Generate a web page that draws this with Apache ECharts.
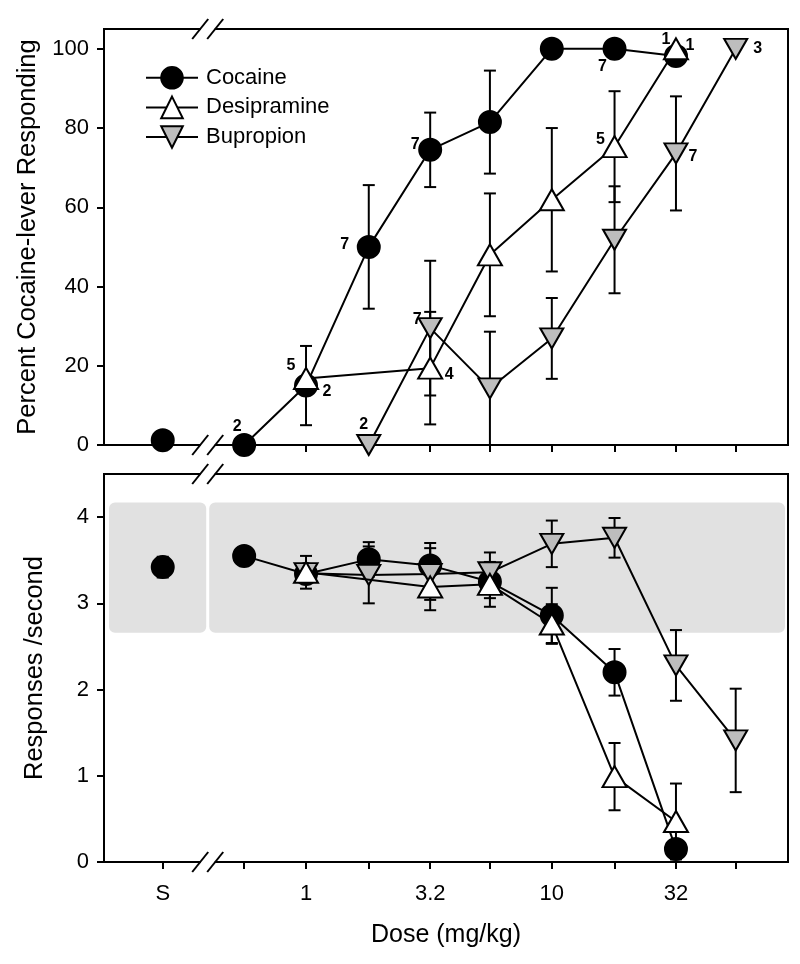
<!DOCTYPE html>
<html>
<head>
<meta charset="utf-8">
<script src="https://cdn.jsdelivr.net/npm/echarts@6/dist/echarts.min.js"></script>
<style>
  html, body { margin: 0; padding: 0; background: #fff; }
  #chart { width: 800px; height: 964px; }
</style>
</head>
<body>
<div id="chart"></div>
<script>
// ---------------- DATA ----------------
const allDoses = [0.56, 1, 1.8, 3.2, 5.6, 10, 18, 32, 56];
const labelDoses = [1, 3.2, 10, 32];
const xTickLabels = ['S', '1', '3.2', '10', '32'];
const yTicksPct = [0, 20, 40, 60, 80, 100];
const yTicksRate = [0, 1, 2, 3, 4];

// Top panel: percent cocaine-lever responding
const cocDoses = [0.56, 1, 1.8, 3.2, 5.6, 10, 18, 32];
const cocPct = [0, 15, 50, 74.5, 81.5, 100, 100, 98.2];
const cocPctSem = [0, 10, 15.6, 9.4, 13, 0, 0, 0];
const cocPctN = ['2', '2', '7', '7', '', '', '7', '1'];
const cocSalinePct = 1.2;

const desiDoses = [1, 3.2, 5.6, 10, 18, 32];
const desiPct = [16.8, 19.4, 48, 61.9, 75.3, 100];
const desiPctSem = [0, 14.2, 15.5, 18.1, 14, 0];
const desiPctN = ['5', '4', '', '', '5', '1'];

const bupDosesPct = [1.8, 3.2, 5.6, 10, 18, 32, 56];
const bupPct = [0, 29.5, 14.3, 26.9, 51.8, 73.6, 100];
const bupPctSem = [0, 17, 14.3, 10.2, 13.5, 14.4, 0];
const bupPctN = ['2', '7', '', '', '', '7', '3'];

// Bottom panel: responses / second
const cocRate = [3.55, 3.34, 3.51, 3.44, 3.25, 2.86, 2.20, 0.15];
const cocRateSem = [0, 0, 0.2, 0.26, 0.19, 0.32, 0.27, 0.1];
const cocSalineRate = 3.42;
const cocSalineRateSem = 0.12;

const desiRate = [3.36, 3.19, 3.22, 2.76, 0.99, 0.47];
const desiRateSem = [0.19, 0.27, 0.26, 0.23, 0.39, 0.44];

const bupDosesRate = [1, 1.8, 3.2, 5.6, 10, 18, 32, 56];
const bupRate = [3.35, 3.33, 3.34, 3.36, 3.69, 3.76, 2.28, 1.41];
const bupRateSem = [0, 0.33, 0.3, 0.23, 0.27, 0.23, 0.41, 0.6];

// control range band (responses/second)
const controlBand = [2.66, 4.17];

// ---------------- LAYOUT ----------------
const FONT = 'Liberation Sans, Arial, sans-serif';
const X_MIN = -0.822, X_MAX = 1.961;
const S_POS = -0.583;      // position of the saline point on the axis
const BREAK_POS = -0.40;   // axis break position
const lg = Math.log10;

const tickPos = [S_POS].concat(allDoses.map(lg));
const labelPos = [S_POS].concat(labelDoses.map(lg));

// number-label offsets (px) keyed by series + index
const nOffsets = {
  coc: { 0: [-7, -18], 1: [21, 6], 2: [-24, -2], 3: [-15, -5], 6: [-12, 18], 7: [-10, -16] },
  desi: { 0: [-15, -13], 1: [19, 6], 4: [-14, -7], 5: [14, -3] },
  bup: { 0: [-5, -20], 1: [-13, -9], 5: [17, 3], 6: [22, 0] }
};

// ---------------- BUILD ----------------
function pts(doses, vals) { return doses.map((d, i) => [lg(d), vals[i]]); }
function errs(doses, vals, sem) {
  const out = [];
  doses.forEach((d, i) => { if (sem[i] > 0) out.push([lg(d), Math.max(0, vals[i] - sem[i]), vals[i] + sem[i]]); });
  return out;
}
function errRender(params, api) {
  const x = api.value(0), lo = api.value(1), hi = api.value(2);
  const p1 = api.coord([x, hi]), p2 = api.coord([x, lo]);
  const cw = 6, st = { stroke: '#000', lineWidth: 2 };
  return { type: 'group', children: [
    { type: 'line', shape: { x1: p1[0], y1: p1[1], x2: p2[0], y2: p2[1] }, style: st },
    { type: 'line', shape: { x1: p1[0] - cw, y1: p1[1], x2: p1[0] + cw, y2: p1[1] }, style: st },
    { type: 'line', shape: { x1: p2[0] - cw, y1: p2[1], x2: p2[0] + cw, y2: p2[1] }, style: st }
  ]};
}
function errSeries(data, gi) {
  return { type: 'custom', xAxisIndex: gi, yAxisIndex: gi, data: data, renderItem: errRender,
    encode: { x: 0, y: [1, 2] }, clip: false, z: 2, silent: true };
}

const styles = {
  Cocaine: { symbol: 'circle', symbolSize: 22, symbolRotate: 0, fill: '#000' },
  Desipramine: { symbol: 'triangle', symbolSize: [24, 21], symbolRotate: 0, fill: '#fff' },
  Bupropion: { symbol: 'triangle', symbolSize: [23, 20], symbolRotate: 180, fill: '#bdbdbd' }
};
function lineSeries(name, data, gi, z) {
  const s = styles[name];
  return { type: 'line', name: name, xAxisIndex: gi, yAxisIndex: gi, data: data,
    symbol: s.symbol, symbolSize: s.symbolSize, symbolRotate: s.symbolRotate, showAllSymbol: true,
    itemStyle: { color: s.fill, borderColor: '#000', borderWidth: 2, opacity: 1 },
    lineStyle: { color: '#000', width: 2 }, clip: false, z: z, silent: true };
}

// number labels
const labelItems = [];
function addLabels(key, doses, vals, ns) {
  doses.forEach((d, i) => {
    if (ns[i]) {
      const off = nOffsets[key][i] || [0, 0];
      labelItems.push({ x: lg(d), y: vals[i], text: ns[i], dx: off[0], dy: off[1] });
    }
  });
}
addLabels('coc', cocDoses, cocPct, cocPctN);
addLabels('desi', desiDoses, desiPct, desiPctN);
addLabels('bup', bupDosesPct, bupPct, bupPctN);

function xAxis(gi, showLabels) {
  return {
    type: 'value', gridIndex: gi, min: X_MIN, max: X_MAX,
    axisLine: { show: true, onZero: false, lineStyle: { color: '#000', width: 2 } },
    axisTick: { show: true, inside: false, length: 7, lineStyle: { color: '#000', width: 2 }, customValues: tickPos },
    axisLabel: { show: showLabels, customValues: labelPos, margin: 21,
      fontSize: 22, color: '#000', fontFamily: FONT,
      formatter: v => { const i = labelPos.findIndex(p => Math.abs(p - v) < 1e-6); return i >= 0 ? xTickLabels[i] : ''; } },
    splitLine: { show: false },
    name: showLabels ? 'Dose (mg/kg)' : '', nameLocation: 'middle', nameGap: 61,
    nameTextStyle: { fontSize: 25, color: '#000', fontFamily: FONT }
  };
}
function yAxis(gi, min, max, ticks, name) {
  return {
    type: 'value', gridIndex: gi, min: min, max: max,
    axisLine: { show: true, onZero: false, lineStyle: { color: '#000', width: 2 } },
    axisTick: { show: true, inside: false, length: 7, lineStyle: { color: '#000', width: 2 }, customValues: ticks },
    axisLabel: { customValues: ticks, margin: 15, fontSize: 22, color: '#000', fontFamily: FONT },
    splitLine: { show: false },
    name: name, nameLocation: 'middle', nameGap: 56,
    nameTextStyle: { fontSize: 25.5, color: '#000', fontFamily: FONT }
  };
}

function breakSeries(gi) {
  return { type: 'custom', xAxisIndex: gi, yAxisIndex: gi, data: [[BREAK_POS, 0]], clip: false, z: 20, silent: true,
    renderItem: function (params, api) {
      const cs = params.coordSys;
      const bx = api.coord([BREAK_POS, 0])[0];
      const children = [];
      [cs.y, cs.y + cs.height].forEach(yy => {
        children.push({ type: 'rect', shape: { x: bx - 7, y: yy - 3, width: 14, height: 6 }, style: { fill: '#fff' } });
        [-7.5, 7.5].forEach(o => {
          children.push({ type: 'line', shape: { x1: bx + o - 8, y1: yy + 10, x2: bx + o + 8, y2: yy - 10 },
            style: { stroke: '#000', lineWidth: 2 } });
        });
      });
      return { type: 'group', children: children };
    } };
}

const bandSeries = { type: 'custom', xAxisIndex: 1, yAxisIndex: 1, data: [controlBand], z: 0, silent: true, clip: false,
  encode: { y: [0, 1] },
  renderItem: function (params, api) {
    const cs = params.coordSys;
    const lo = api.coord([BREAK_POS, api.value(0)]);
    const hi = api.coord([BREAK_POS, api.value(1)]);
    const bx = lo[0];
    const st = { fill: '#e1e1e1' };
    return { type: 'group', children: [
      { type: 'rect', shape: { x: cs.x + 5, y: hi[1], width: bx - 1.5 - (cs.x + 5), height: lo[1] - hi[1], r: 6 }, style: st },
      { type: 'rect', shape: { x: bx + 1.5, y: hi[1], width: cs.x + cs.width - 3 - (bx + 1.5), height: lo[1] - hi[1], r: 6 }, style: st }
    ]};
  } };

const labelSeries = { type: 'custom', xAxisIndex: 0, yAxisIndex: 0, data: labelItems.map(it => [it.x, it.y]),
  clip: false, z: 30, silent: true,
  renderItem: function (params, api) {
    const it = labelItems[params.dataIndex];
    const p = api.coord([it.x, it.y]);
    return { type: 'text', x: p[0] + it.dx, y: p[1] + it.dy,
      style: { text: it.text, fill: '#000', font: 'bold 16px ' + FONT, align: 'center', verticalAlign: 'middle' } };
  } };

const salineSeries = (gi, val) => ({ type: 'scatter', name: 'Saline', xAxisIndex: gi, yAxisIndex: gi,
  data: [[S_POS, val]], symbol: 'circle', symbolSize: 22, clip: false, z: 5, silent: true,
  itemStyle: { color: '#000', borderColor: '#000', borderWidth: 2, opacity: 1 } });

const option = {
  animation: false,
  backgroundColor: '#fff',
  textStyle: { fontFamily: FONT },
  grid: [
    { left: 104, top: 29, width: 684, height: 416, show: true, borderColor: '#000', borderWidth: 2, backgroundColor: 'transparent' },
    { left: 104, top: 474, width: 684, height: 388, show: true, borderColor: '#000', borderWidth: 2, backgroundColor: 'transparent' }
  ],
  legend: {
    data: ['Cocaine', 'Desipramine', 'Bupropion'], orient: 'vertical', left: 140, top: 61,
    itemWidth: 52, itemHeight: 27, itemGap: 6, selectedMode: false,
    textStyle: { fontSize: 22, color: '#000', fontFamily: FONT, padding: [0, 0, 0, 3] }
  },
  xAxis: [xAxis(0, false), xAxis(1, true)],
  yAxis: [
    yAxis(0, 0, 105, yTicksPct, 'Percent Cocaine-lever Responding'),
    yAxis(1, 0, 4.5, yTicksRate, 'Responses /second')
  ],
  series: [
    bandSeries,
    // top panel
    errSeries(errs(cocDoses, cocPct, cocPctSem), 0),
    errSeries(errs(desiDoses, desiPct, desiPctSem), 0),
    errSeries(errs(bupDosesPct, bupPct, bupPctSem), 0),
    lineSeries('Cocaine', pts(cocDoses, cocPct), 0, 3),
    lineSeries('Desipramine', pts(desiDoses, desiPct), 0, 4),
    lineSeries('Bupropion', pts(bupDosesPct, bupPct), 0, 5),
    salineSeries(0, cocSalinePct),
    // bottom panel
    errSeries(errs(cocDoses, cocRate, cocRateSem), 1),
    errSeries(errs(desiDoses, desiRate, desiRateSem), 1),
    errSeries(errs(bupDosesRate, bupRate, bupRateSem), 1),
    errSeries([[S_POS, cocSalineRate - cocSalineRateSem, cocSalineRate + cocSalineRateSem]], 1),
    lineSeries('Cocaine', pts(cocDoses, cocRate), 1, 3),
    lineSeries('Bupropion', pts(bupDosesRate, bupRate), 1, 4),
    lineSeries('Desipramine', pts(desiDoses, desiRate), 1, 5),
    salineSeries(1, cocSalineRate),
    labelSeries,
    breakSeries(0),
    breakSeries(1)
  ]
};

const chart = echarts.init(document.getElementById('chart'), null, { renderer: 'canvas' });
chart.setOption(option);
</script>
</body>
</html>
